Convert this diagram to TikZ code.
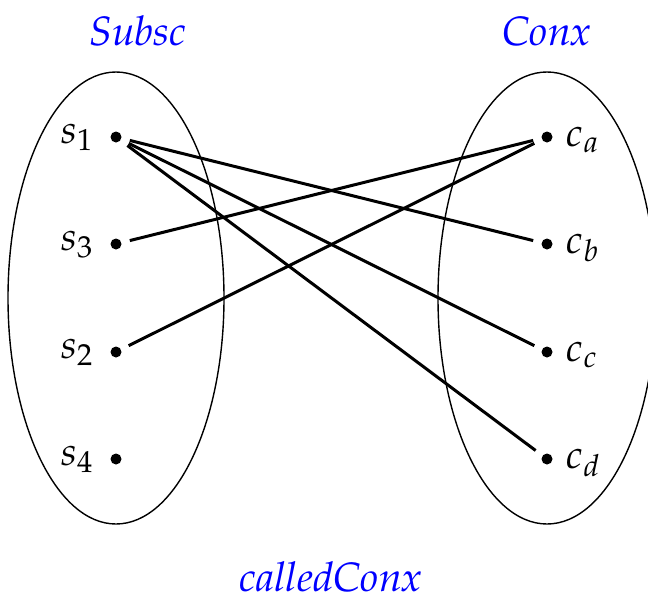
\documentclass[tikz,border=0pt]{standalone}
\usepackage{mathpazo}
\begin{document}
\begin{tikzpicture}[x=1pt,y=-1pt,
  dot/.style={circle,fill=black,inner sep=0pt,minimum size=11pt},
  lbl/.style={inner sep=0pt,font=\fontsize{40}{48}\selectfont},
  ttl/.style={inner sep=0pt,text=blue,font=\fontsize{41}{49}\selectfont},
  conn/.style={line width=3pt,shorten <=8.5pt,shorten >=8.5pt},
  oval/.style={line width=1.4pt}]
\useasboundingbox (0,0) rectangle (648,603);
\draw[oval] (116,298) ellipse [x radius=108pt, y radius=226pt];
\draw[oval] (547,298) ellipse [x radius=109pt, y radius=226pt];
\node[ttl,anchor=base] (tS) at (138,45) {$\mathit{Subsc}$};
\node[ttl,anchor=base] (tC) at (547,45) {$\mathit{Conx}$};
\node[ttl,anchor=base] (tcc) at (331,591) {$\mathit{calledConx}$};
\node[dot] (s1) at (116,137) {};
\node[dot] (s3) at (116,244) {};
\node[dot] (s2) at (116,352) {};
\node[dot] (s4) at (116,459) {};
\node[dot] (ca) at (547,137) {};
\node[dot] (cb) at (547,244) {};
\node[dot] (cc) at (547,352) {};
\node[dot] (cd) at (547,459) {};
\node[lbl,anchor=base east] (ls1) at (93,143) {$s_1$};
\node[lbl,anchor=base east] (ls3) at (93,250) {$s_3$};
\node[lbl,anchor=base east] (ls2) at (93,358) {$s_2$};
\node[lbl,anchor=base east] (ls4) at (93,465) {$s_4$};
\node[lbl,anchor=base west] (lca) at (566,146) {$c_a$};
\node[lbl,anchor=base west] (lcb) at (566,253) {$c_b$};
\node[lbl,anchor=base west] (lcc) at (566,361) {$c_c$};
\node[lbl,anchor=base west] (lcd) at (566,468) {$c_d$};
\draw[conn] (s1) -- (cb);
\draw[conn] (s1) -- (cc);
\draw[conn] (s1) -- (cd);
\draw[conn] (s3) -- (ca);
\draw[conn] (s2) -- (ca);
\end{tikzpicture}
\end{document}
